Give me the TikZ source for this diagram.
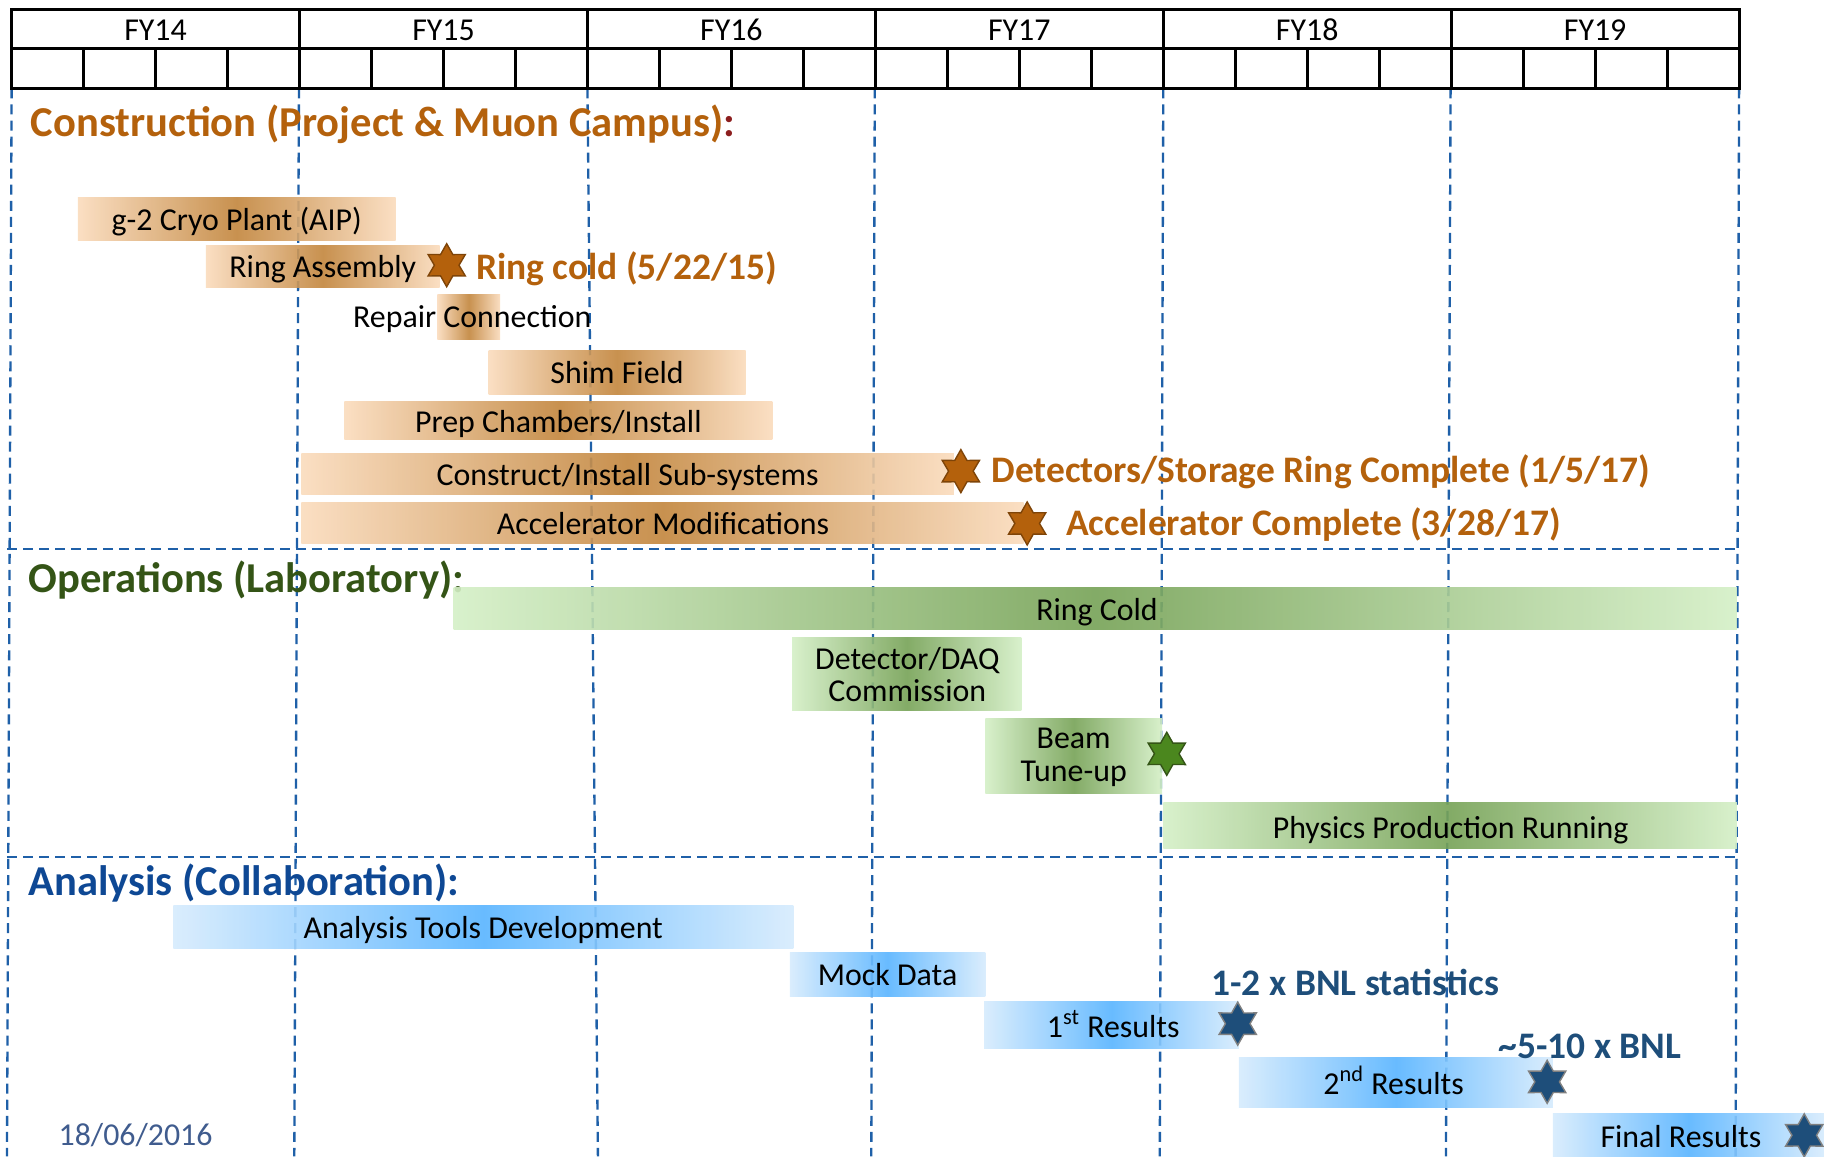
\documentclass[tikz,border=0pt]{standalone}
\usepackage{fontspec}
\setmainfont{Carlito}
\usetikzlibrary{shapes.geometric}

% colours
\definecolor{gridblue}{RGB}{31,96,168}
\definecolor{conlight}{RGB}{250,219,188}
\definecolor{condark}{RGB}{194,133,60}
\definecolor{oplight}{RGB}{212,239,198}
\definecolor{opdark}{RGB}{118,162,86}
\definecolor{anlight}{RGB}{214,235,253}
\definecolor{andark}{RGB}{88,180,255}
\definecolor{conhead}{RGB}{180,97,12}
\definecolor{colonred}{RGB}{140,30,30}
\definecolor{ophead}{RGB}{52,84,22}
\definecolor{anhead}{RGB}{14,72,148}
\definecolor{bnlblue}{RGB}{30,78,122}
\definecolor{datecol}{RGB}{64,92,142}

\tikzset{
  gridline/.style={draw=gridblue, line width=1pt, dash pattern=on 4.3pt off 2.6pt},
  tabline/.style={line width=1.2pt},
  conbar/.style={left color=conlight, right color=conlight, middle color=condark, fill opacity=0.9},
  opbar/.style={left color=oplight, right color=oplight, middle color=opdark, fill opacity=0.9},
  anbar/.style={left color=anlight, right color=anlight, middle color=andark, fill opacity=0.9},
  task/.style={inner sep=0pt, font=\fontsize{13.7}{15}\selectfont, text height=11pt, text depth=1.5pt},
  tasktwo/.style={inner sep=0pt, align=center, font=\fontsize{13.7}{14}\selectfont},
  head/.style={anchor=west, inner sep=0pt, font=\fontsize{18.3}{20}\selectfont\bfseries, text height=14pt, text depth=2pt},
  mile/.style={anchor=west, inner sep=0pt, font=\fontsize{16.1}{18}\selectfont\bfseries, text height=12.5pt, text depth=1.5pt},
  milestar/.style={star, star points=6, star point ratio=1.75, minimum size=18.5pt, inner sep=0pt, line width=0.6pt},
}

\begin{document}
\begin{tikzpicture}[x=0.5pt, y=-0.5pt]
  \useasboundingbox (0,0) rectangle (1568,994);

  % dashed grid: year boundaries and section separators
  \foreach \xt/\xb in {10/6, 257/253, 505/514, 752/749, 1000/997, 1247/1243, 1495/1492}
    \draw[gridline] (\xt,76) -- (\xb,994);
  \draw[gridline] (6,472) -- (1493,472);
  \draw[gridline] (6,737) -- (1492,737);

  % header: fiscal years and quarters
  \draw[tabline] (10,8) rectangle (1495,76);
  \draw[tabline] (10,42) -- (1495,42);
  \foreach \yr [count=\i from 0] in {14,...,19} {
    \node[task] (fy\yr) at ({133.75+247.5*\i},25) {FY\yr};
    \draw[tabline] ({10+247.5*\i},8) -- ({10+247.5*\i},76);
    \foreach \q in {1,2,3}
      \draw[tabline] ({10+247.5*\i+61.875*\q},42) -- ({10+247.5*\i+61.875*\q},76);
  }

  % construction
  \node[head, text=conhead] (construction) at (26,105) {Construction (Project \& Muon Campus){\color{colonred}:}};
  \path[conbar] (67,170) rectangle (340,207);
  \node[task] (cryo) at (203.5,188.5) {g-2 Cryo Plant (AIP)};
  \path[conbar] (177,211) rectangle (378,247);
  \node[task] (ringasm) at (277.5,229) {Ring Assembly};
  \node[milestar, fill=conhead, draw=conhead!70!black] (coldstar) at (384,228) {};
  \node[mile, text=conhead] (coldlabel) at (409,229) {Ring cold (5/22/15)};
  \path[conbar] (376,253) rectangle (430,292);
  \node[task] (repair) at (406,272) {Repair Connection};
  \path[conbar] (420,301) rectangle (641,339);
  \node[task] (shim) at (530.5,320) {Shim Field};
  \path[conbar] (296,345) rectangle (664,378);
  \node[task] (prep) at (480,362) {Prep Chambers/Install};
  \path[conbar] (259,390) rectangle (820,425);
  \node[task] (subsys) at (539.5,408) {Construct/Install Sub-systems};
  \node[milestar, fill=conhead, draw=conhead!70!black] (detstar) at (826,405) {};
  \node[mile, text=conhead] (detlabel) at (852,404) {Detectors/Storage Ring Complete (1/5/17)};
  \path[conbar] (259,432) rectangle (880,467);
  \node[task] (accmod) at (570,450) {Accelerator Modifications};
  \node[milestar, fill=conhead, draw=conhead!70!black] (accstar) at (883,450) {};
  \node[mile, text=conhead] (acclabel) at (916,449) {Accelerator Complete (3/28/17)};

  % operations
  \node[head, text=ophead] (operations) at (24,497) {Operations (Laboratory):};
  \path[opbar] (390,505) rectangle (1493,541);
  \node[task] (ringcold) at (943,524) {Ring Cold};
  \path[opbar] (681,548) rectangle (878,611);
  \node[tasktwo] (daq) at (780,580) {Detector/DAQ\\Commission};
  \path[opbar] (847,618) rectangle (999,682);
  \node[tasktwo] (tune) at (923,651) {Beam\\Tune-up};
  \node[milestar, fill={rgb,255:red,75;green,135;blue,30}, draw=ophead] (tunestar) at (1003,648) {};
  \path[opbar] (1000,690) rectangle (1493,729);
  \node[task] (physics) at (1247,711) {Physics Production Running};

  % analysis
  \node[head, text=anhead] (analysis) at (24,758) {Analysis (Collaboration):};
  \path[anbar] (149,778) rectangle (682,815);
  \node[task] (tools) at (415.5,797) {Analysis Tools Development};
  \path[anbar] (679,819) rectangle (847,857);
  \node[task] (mock) at (763,838) {Mock Data};
  \path[anbar] (846,861) rectangle (1065,901);
  \node[task] (first) at (957,882) {1\textsuperscript{st} Results};
  \node[milestar, fill=bnlblue, draw=gray] (firststar) at (1064,880) {};
  \node[mile, text=bnlblue] (firstlabel) at (1041,845) {1-2 x BNL statistics};
  \path[anbar] (1065,909) rectangle (1335,952);
  \node[task] (second) at (1198,931) {2\textsuperscript{nd} Results};
  \node[milestar, fill=bnlblue, draw=gray] (secondstar) at (1330,930) {};
  \node[mile, text=bnlblue] (secondlabel) at (1288,899) {\textasciitilde5-10 x BNL};
  \path[anbar] (1335,957) rectangle (1568,1000);
  \node[task] (final) at (1445,977) {Final Results};
  \node[milestar, fill=bnlblue, draw=gray] (finalstar) at (1551,976) {};

  % date
  \node[task, anchor=west, text=datecol] (date) at (50,975) {18/06/2016};
\end{tikzpicture}
\end{document}
